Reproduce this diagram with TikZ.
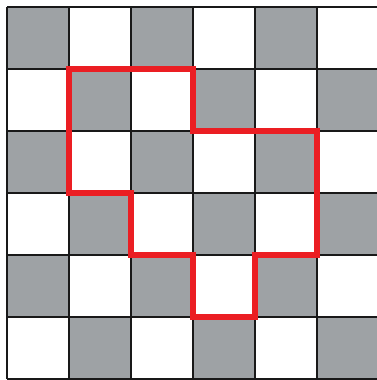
\documentclass[tikz,border=0pt]{standalone}
\usetikzlibrary{calc}
\definecolor{cellgray}{RGB}{158,162,165}
\definecolor{pathred}{RGB}{235,30,35}
\tikzset{
  cellfill/.style={fill=cellgray},
  gridline/.style={draw=black!90, line width=1.1pt},
  redpath/.style={draw=pathred, line width=5.5pt, line join=miter}
}
\begin{document}
\begin{tikzpicture}[x=1pt,y=-1pt]
\useasboundingbox (0,0) rectangle (377,380);
\fill[white] (0,0) rectangle (377,380);
\def\cs{62}
\begin{scope}[shift={(7,7)}]
  \foreach \r in {0,...,5}{
    \foreach \c in {0,...,5}{
      \pgfmathtruncatemacro{\parity}{mod(\r+\c,2)}
      \ifnum\parity=0
        \path[cellfill] (\c*\cs,\r*\cs) rectangle ++(\cs,\cs);
      \fi
    }
  }
  \foreach \i in {0,...,6}{
    \draw[gridline] (\i*\cs,0) -- (\i*\cs,6*\cs);
    \draw[gridline] (0,\i*\cs) -- (6*\cs,\i*\cs);
  }
  \draw[redpath] (1*\cs,1*\cs) -- (3*\cs,1*\cs) -- (3*\cs,2*\cs) -- (5*\cs,2*\cs)
    -- (5*\cs,4*\cs) -- (4*\cs,4*\cs) -- (4*\cs,5*\cs) -- (3*\cs,5*\cs)
    -- (3*\cs,4*\cs) -- (2*\cs,4*\cs) -- (2*\cs,3*\cs) -- (1*\cs,3*\cs) -- cycle;
\end{scope}
\end{tikzpicture}
\end{document}
